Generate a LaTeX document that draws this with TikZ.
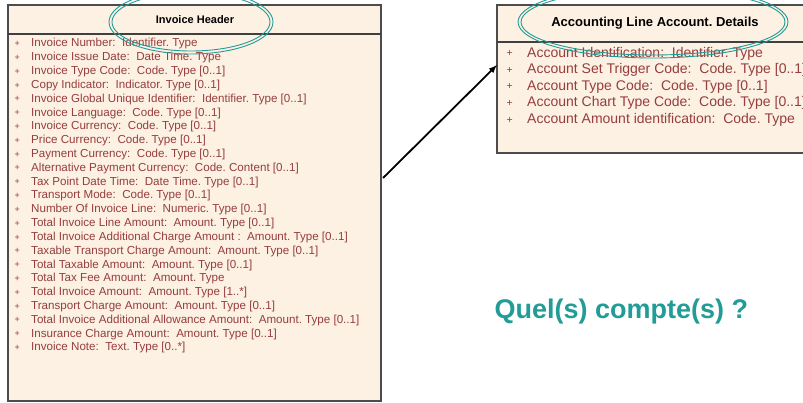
\documentclass[tikz,border=0pt]{standalone}
\usepackage{fontspec}
\setmainfont{Liberation Sans}
\definecolor{rowred}{RGB}{150,62,62}
\definecolor{boxfill}{RGB}{252,241,227}
\definecolor{ringteal}{RGB}{34,156,151}
\begin{document}
\frenchspacing
\begin{tikzpicture}[x = 1pt,y = -1pt,
  umlbox/.style = {draw = black!70,fill = boxfill,line width = 1.4pt,inner sep = 0pt},
  lrow/.style = {anchor = west,inner sep = 0pt,text = rowred,font = \fontsize{11.6}{13}\selectfont,
    label = {[text = rowred,inner sep = 0pt,font = \fontsize{9}{9}\selectfont,label distance = 11pt]left:+}},
  rrow/.style = {anchor = west,inner sep = 0pt,text = rowred,font = \fontsize{14}{16}\selectfont,
    label = {[text = rowred,inner sep = 0pt,font = \fontsize{10.5}{10}\selectfont,label distance = 14pt]left:+}},
  ring/.style = {draw = ringteal,line width = 0.9pt}]
\clip (0,0) rectangle (803,403);
\fill[white] (0,0) rectangle (803,403);
%
\node[umlbox,minimum width = 373pt,minimum height = 396pt] (ihbox) at (194.5,203) {};
\node[umlbox,minimum width = 316pt,minimum height = 148pt] (albox) at (655,79) {};
\coordinate (ihsepL) at (8,34);\coordinate (ihsepR) at (381,34);\draw[black!75,line width = 1.2pt] (ihsepL) -- (ihsepR);
\coordinate (alsepL) at (497,42);\coordinate (alsepR) at (813,42);\draw[black!75,line width = 1.2pt] (alsepL) -- (alsepR);
\node[font = \bfseries\fontsize{11}{13}\selectfont] (ihtitle) at (195,20) {Invoice Header};
\node[font = \bfseries\fontsize{13}{15}\selectfont] (altitle) at (655,23) {Accounting Line Account. Details};
%
\node[lrow] (ih1) at (31,44) {Invoice Number:~ Identifier. Type};
\node[lrow] (ih2) at (31,57.8) {Invoice Issue Date:~ Date Time. Type};
\node[lrow] (ih3) at (31,71.6) {Invoice Type Code:~ Code. Type [0..1]};
\node[lrow] (ih4) at (31,85.5) {Copy Indicator:~ Indicator. Type [0..1]};
\node[lrow] (ih5) at (31,99.3) {Invoice Global Unique Identifier:~ Identifier. Type [0..1]};
\node[lrow] (ih6) at (31,113.1) {Invoice Language:~ Code. Type [0..1]};
\node[lrow] (ih7) at (31,126.9) {Invoice Currency:~ Code. Type [0..1]};
\node[lrow] (ih8) at (31,140.7) {Price Currency:~ Code. Type [0..1]};
\node[lrow] (ih9) at (31,154.6) {Payment Currency:~ Code. Type [0..1]};
\node[lrow] (ih10) at (31,168.4) {Alternative Payment Currency:~ Code. Content [0..1]};
\node[lrow] (ih11) at (31,182.2) {Tax Point Date Time:~ Date Time. Type [0..1]};
\node[lrow] (ih12) at (31,196) {Transport Mode:~ Code. Type [0..1]};
\node[lrow] (ih13) at (31,209.8) {Number Of Invoice Line:~ Numeric. Type [0..1]};
\node[lrow] (ih14) at (31,223.7) {Total Invoice Line Amount:~ Amount. Type [0..1]};
\node[lrow] (ih15) at (31,237.5) {Total Invoice Additional Charge Amount :~ Amount. Type [0..1]};
\node[lrow] (ih16) at (31,251.3) {Taxable Transport Charge Amount:~ Amount. Type [0..1]};
\node[lrow] (ih17) at (31,265.1) {Total Taxable Amount:~ Amount. Type [0..1]};
\node[lrow] (ih18) at (31,278.9) {Total Tax Fee Amount:~ Amount. Type};
\node[lrow] (ih19) at (31,292.8) {Total Invoice Amount:~ Amount. Type [1..*]};
\node[lrow] (ih20) at (31,306.6) {Transport Charge Amount:~ Amount. Type [0..1]};
\node[lrow] (ih21) at (31,320.4) {Total Invoice Additional Allowance Amount:~ Amount. Type [0..1]};
\node[lrow] (ih22) at (31,334.2) {Insurance Charge Amount:~ Amount. Type [0..1]};
\node[lrow] (ih23) at (31,348) {Invoice Note:~ Text. Type [0..*]};
%
\node[rrow] (al1) at (527,53.5) {Account Identification:~ Identifier. Type};
\node[rrow] (al2) at (527,70.1) {Account Set Trigger Code:~ Code. Type [0..1]};
\node[rrow] (al3) at (527,86.7) {Account Type Code:~ Code. Type [0..1]};
\node[rrow] (al4) at (527,103.3) {Account Chart Type Code:~ Code. Type [0..1]};
\node[rrow] (al5) at (527,120) {Account Amount identification:~ Code. Type};
%
\draw[ring] (191,22) ellipse [x radius = 82,y radius = 32];\draw[ring] (191,22) ellipse [x radius = 79,y radius = 29];
\draw[ring] (653,22) ellipse [x radius = 135,y radius = 36];\draw[ring] (653,22) ellipse [x radius = 132,y radius = 33];
%
\coordinate (from) at (383,178);\coordinate (to) at (497,65);
\draw[-latex,line width = 1.8pt] (from) -- (to);
\node[anchor = west,text = ringteal,font = \bfseries\fontsize{27}{30}\selectfont] (question) at (491,312) {Quel(s) compte(s) ?};
\end{tikzpicture}
\end{document}
